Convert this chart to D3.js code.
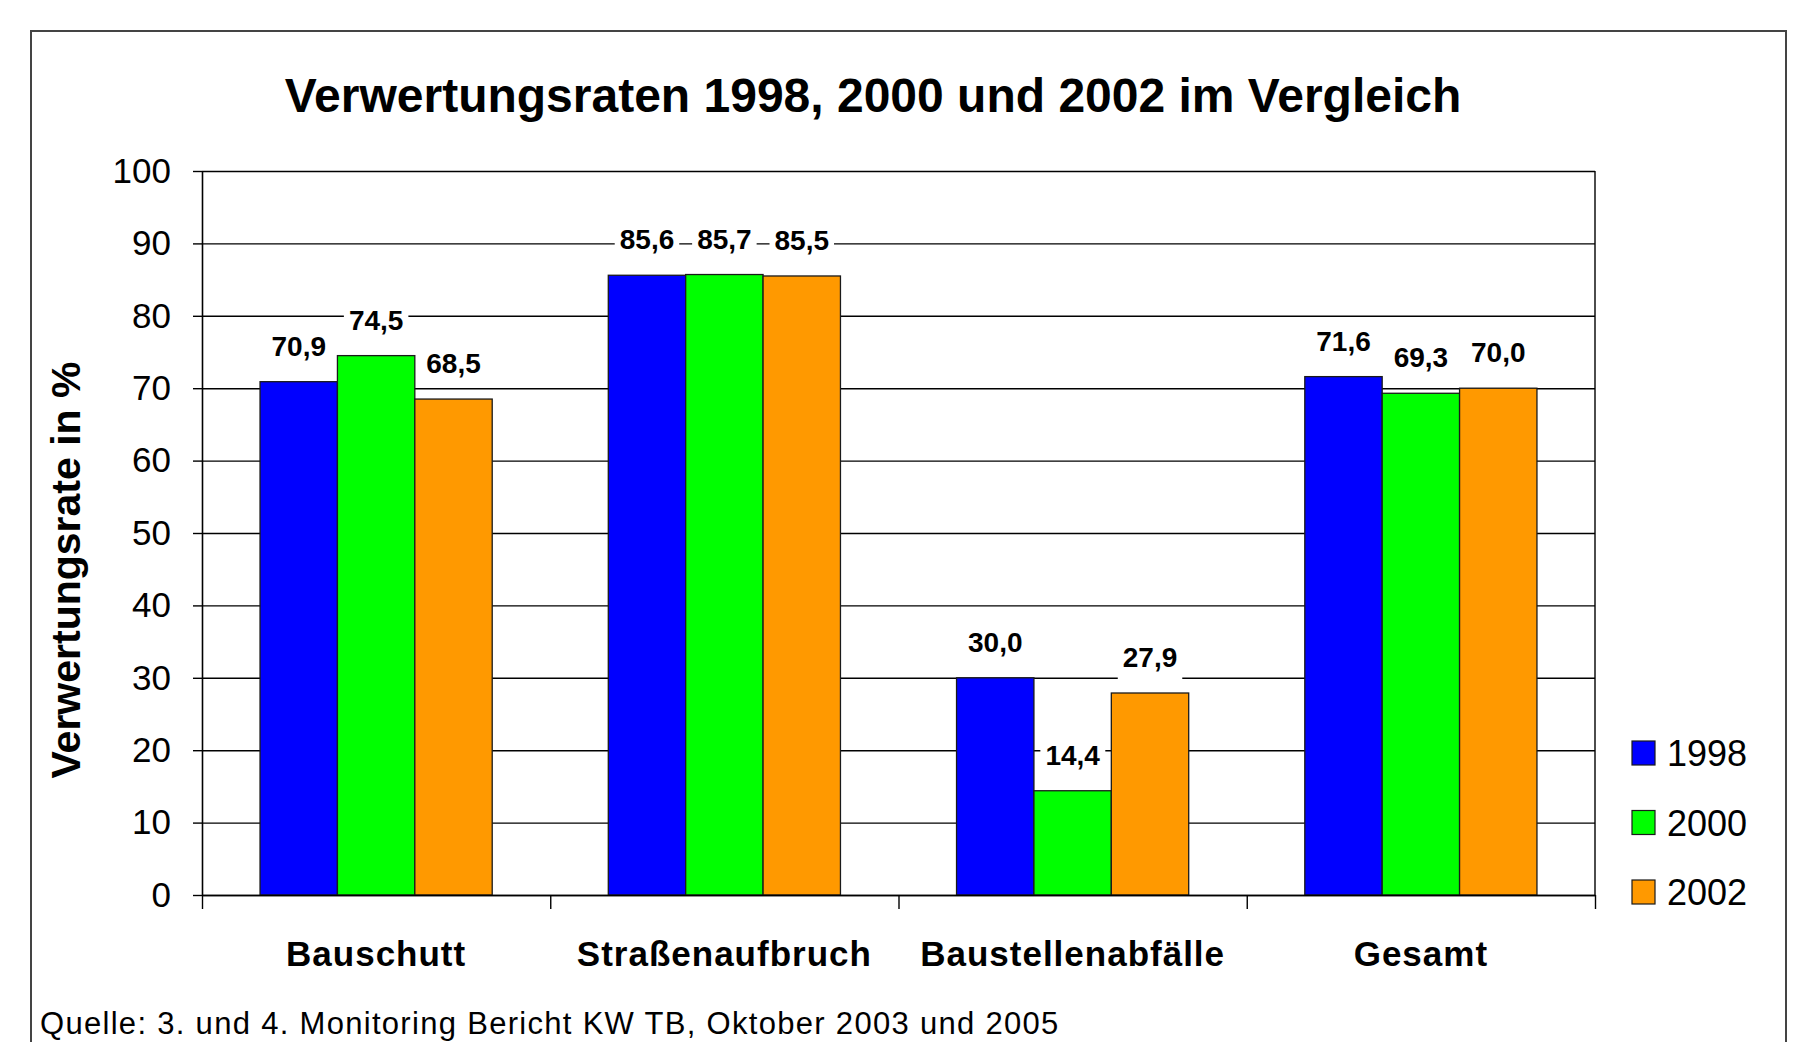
<!DOCTYPE html>
<html lang="de">
<head>
    <meta charset="UTF-8">
    <title>Verwertungsraten 1998, 2000 und 2002 im Vergleich</title>
    <script src="https://d3js.org/d3.v7.min.js"></script>
    <style>
        body {
            margin: 0;
            background: #ffffff;
        }
        svg {
            display: block;
            font-family: "Liberation Sans", Arial, sans-serif;
        }
        .title { font-size: 48px; font-weight: bold; fill: #000; }
        .tick-label { font-size: 35px; fill: #000; }
        .cat-label { font-size: 35px; font-weight: bold; letter-spacing: 1px; fill: #000; }
        .value-label { font-size: 28px; font-weight: bold; fill: #000; }
        .legend-label { font-size: 36px; fill: #000; }
        .axis-title { font-size: 41px; font-weight: bold; fill: #000; }
        .source { font-size: 31px; letter-spacing: 1.3px; fill: #000; }
    </style>
</head>
<body>
<svg></svg>
<script>
    // Daten
    const categories = ["Bauschutt", "Straßenaufbruch", "Baustellenabfälle", "Gesamt"];
    const years = ["1998", "2000", "2002"];
    const values1998 = [70.9, 85.6, 30.0, 71.6];
    const values2000 = [74.5, 85.7, 14.4, 69.3];
    const values2002 = [68.5, 85.5, 27.9, 70.0];
    const yTicks = [0, 10, 20, 30, 40, 50, 60, 70, 80, 90, 100];
    const colors = ["#0000ff", "#00ff00", "#ff9900"];

    const seriesValues = [values1998, values2000, values2002];
    const rows = [];
    categories.forEach((c, i) => {
        years.forEach((y, j) => rows.push({ cat: c, year: y, value: seriesValues[j][i] }));
    });

    const width = 1808, height = 1042;
    const plot = { left: 202, right: 1595, top: 171, bottom: 895 };

    const svg = d3.select("svg").attr("width", width).attr("height", height);

    // Rahmen
    svg.append("rect")
        .attr("x", 31).attr("y", 31)
        .attr("width", 1755).attr("height", 1040)
        .attr("fill", "#fff")
        .attr("stroke", "#444").attr("stroke-width", 2);

    const x = d3.scaleBand().domain(categories).range([plot.left, plot.right]).padding(0);
    const xInner = d3.scaleBand().domain(years).range([0, x.bandwidth()])
        .paddingInner(0).paddingOuter(0.75);
    const y = d3.scaleLinear().domain([0, 100]).range([plot.bottom, plot.top]);

    const de = d3.formatLocale({ decimal: ",", thousands: ".", grouping: [3], currency: ["", "€"] });
    const fmt = de.format(".1f");

    // Gitternetz
    svg.append("g")
        .attr("transform", `translate(${plot.left},0)`)
        .call(d3.axisLeft(y).tickValues(yTicks).tickSize(-(plot.right - plot.left)).tickFormat(""))
        .call(g => g.select(".domain").remove())
        .call(g => g.selectAll("line").attr("stroke", "#000").attr("stroke-width", 1.4));

    // rechte Begrenzung
    svg.append("line")
        .attr("x1", plot.right).attr("x2", plot.right)
        .attr("y1", plot.top).attr("y2", plot.bottom)
        .attr("stroke", "#000").attr("stroke-width", 1.4);

    // Y-Achse
    svg.append("g")
        .attr("transform", `translate(${plot.left},0)`)
        .call(d3.axisLeft(y).tickValues(yTicks).tickSize(9).tickSizeOuter(0).tickPadding(22))
        .call(g => g.select(".domain").attr("stroke", "#000").attr("stroke-width", 1.6))
        .call(g => g.selectAll("line").attr("stroke", "#000").attr("stroke-width", 1.4))
        .call(g => g.selectAll("text").attr("class", "tick-label").attr("font-family", null).attr("font-size", null));

    // Balken
    svg.append("g")
        .selectAll("rect")
        .data(rows)
        .join("rect")
        .attr("x", d => x(d.cat) + xInner(d.year))
        .attr("y", d => y(d.value))
        .attr("width", xInner.bandwidth())
        .attr("height", d => y(0) - y(d.value))
        .attr("fill", d => colors[years.indexOf(d.year)])
        .attr("stroke", "#1a1a1a")
        .attr("stroke-width", 1.3);

    // X-Achse mit Trennstrichen
    const xEdges = d3.scaleLinear().domain([0, categories.length]).range([plot.left, plot.right]);
    svg.append("g")
        .attr("transform", `translate(0,${plot.bottom})`)
        .call(d3.axisBottom(xEdges).tickValues(d3.range(categories.length + 1)).tickSize(14).tickSizeOuter(0).tickFormat(""))
        .call(g => g.select(".domain").attr("stroke", "#000").attr("stroke-width", 1.6))
        .call(g => g.selectAll("line").attr("stroke", "#000").attr("stroke-width", 1.4));

    svg.append("g")
        .selectAll("text")
        .data(categories)
        .join("text")
        .attr("class", "cat-label")
        .attr("x", d => x(d) + x.bandwidth() / 2)
        .attr("y", 966)
        .attr("text-anchor", "middle")
        .text(d => d);

    // Datenbeschriftungen
    const labelBg = svg.append("g");
    const labelG = svg.append("g");
    labelG.selectAll("text")
        .data(rows)
        .join("text")
        .attr("class", "value-label")
        .attr("x", d => x(d.cat) + xInner(d.year) + xInner.bandwidth() / 2)
        .attr("y", d => y(d.value) - 26)
        .attr("text-anchor", "middle")
        .text(d => fmt(d.value))
        .each(function () {
            const b = this.getBBox();
            labelBg.append("rect")
                .attr("x", b.x - 5).attr("y", b.y)
                .attr("width", b.width + 10).attr("height", b.height + 8)
                .attr("fill", "#fff");
        });

    // Titel
    svg.append("text")
        .attr("class", "title")
        .attr("x", 873).attr("y", 112)
        .attr("text-anchor", "middle")
        .text("Verwertungsraten 1998, 2000 und 2002 im Vergleich");

    svg.append("text")
        .attr("class", "axis-title")
        .attr("transform", `translate(80,${570}) rotate(-90)`)
        .attr("text-anchor", "middle")
        .text("Verwertungsrate in %");

    // Legende
    const legendY = d3.scalePoint().domain(years).range([753, 892]);
    const legend = svg.append("g").selectAll("g")
        .data(years)
        .join("g")
        .attr("transform", d => `translate(1632,${legendY(d)})`);
    legend.append("rect")
        .attr("x", 0).attr("y", -12)
        .attr("width", 23).attr("height", 24)
        .attr("fill", (d, i) => colors[i])
        .attr("stroke", "#1a1a1a").attr("stroke-width", 1.2);
    legend.append("text")
        .attr("class", "legend-label")
        .attr("x", 35).attr("y", 13)
        .text(d => d);

    // Quelle
    svg.append("text")
        .attr("class", "source")
        .attr("x", 40).attr("y", 1034)
        .text("Quelle: 3. und 4. Monitoring Bericht KW TB, Oktober 2003 und 2005");
</script>
</body>
</html>
